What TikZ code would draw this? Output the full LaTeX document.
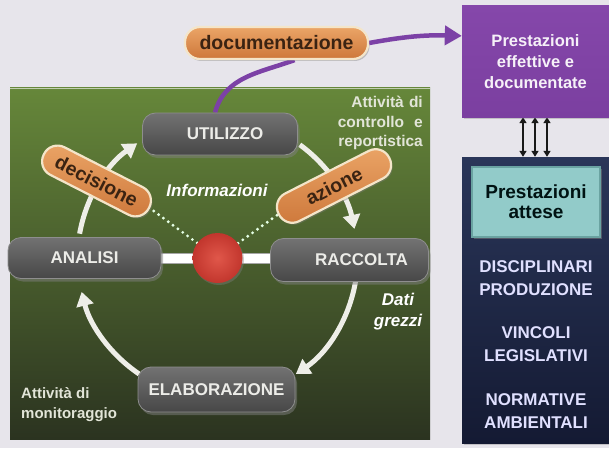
\documentclass[tikz,border=0pt]{standalone}
\usepackage{fontspec}
\setmainfont{Liberation Sans}
\usetikzlibrary{arrows.meta,shadows,calc}
\pgfdeclarelayer{bgzero}
\pgfdeclarelayer{conn}
\pgfsetlayers{bgzero,conn,main}
\definecolor{pagebg}{HTML}{E7E5EB}
\definecolor{gtop}{HTML}{66873A}
\definecolor{gmid}{HTML}{4A6629}
\definecolor{gbot}{HTML}{2B3320}
\definecolor{pilltop}{HTML}{727272}
\definecolor{pillbot}{HTML}{474747}
\definecolor{pilledge}{HTML}{8E8E8E}
\definecolor{ortop}{HTML}{EBA567}
\definecolor{orbot}{HTML}{CD773A}
\definecolor{oredge}{HTML}{F4E5C9}
\definecolor{ortext}{HTML}{3A2312}
\definecolor{purp}{HTML}{7B3FA0}
\definecolor{purptop}{HTML}{8547AA}
\definecolor{purpline}{HTML}{7C41A6}
\definecolor{navytop}{HTML}{2A3659}
\definecolor{navybot}{HTML}{141A33}
\definecolor{tealfill}{HTML}{92CBC9}
\definecolor{tealedge}{HTML}{6AA3A1}
\definecolor{dotin}{HTML}{E0574A}
\definecolor{dotout}{HTML}{C2362D}
\definecolor{lighttext}{HTML}{ECECE8}
\definecolor{labtext}{HTML}{E2E5D8}
\definecolor{cyccol}{HTML}{EEEEE8}
\begin{document}
\begin{tikzpicture}[x=1pt,y=1pt,
  proc/.style={rounded corners=13pt, minimum height=42pt, inner sep=0pt,
    top color=pilltop, bottom color=pillbot, draw=pilledge, line width=0.8pt,
    drop shadow={shadow xshift=2pt, shadow yshift=-3pt, opacity=0.5},
    text=lighttext, font=\bfseries\fontsize{17}{20}\selectfont},
  orpill/.style={rounded corners=15pt, minimum height=31pt, inner sep=0pt,
    top color=ortop, bottom color=orbot, draw=oredge, line width=2.2pt,
    text=ortext, font=\bfseries\fontsize{19.5}{22}\selectfont,
    drop shadow={shadow xshift=1.5pt, shadow yshift=-2pt, opacity=0.4}},
  lbl/.style={inner sep=0pt, text=labtext, font=\bfseries\fontsize{15.5}{19.5}\selectfont},
  ital/.style={inner sep=0pt, text=white, align=center, font=\bfseries\itshape\fontsize{17}{21}\selectfont},
  cyc/.style={draw=cyccol, line width=5pt, -{Triangle[width=17pt,length=14pt]}},
  dotline/.style={draw=white!90!green, line width=3.2pt, line cap=round, dash pattern=on 0pt off 6pt},
  pline/.style={draw=purpline, line width=4.5pt},
  dblarrow/.style={draw=black!90, line width=1.8pt, {Triangle[width=7pt,length=6pt]}-{Triangle[width=7pt,length=6pt]}},
  navytext/.style={inner sep=0pt, align=center, text=white!88!blue, font=\bfseries\fontsize{17}{23}\selectfont}
]
\useasboundingbox (0,0) rectangle (609,448);
\coordinate (ctr) at (217.5,190);
\begin{pgfonlayer}{bgzero}
  \fill[pagebg] (0,0) rectangle (609,448);
  \shade[top color=gtop, middle color=gmid, bottom color=gbot] (10,9) rectangle (430,360);
  \draw[white!60!gtop, line width=0.8pt] (10,360) -- (430,360);
  \foreach \a/\b in {170/125, 54/12, -9/-56, -124/-166}
    \draw[cyc] ($(ctr)+(\a:140)$) arc[start angle=\a, end angle=\b, radius=140];
\end{pgfonlayer}

% right column
\node[minimum width=147pt, minimum height=111pt, inner sep=0pt, top color=purptop, bottom color=purp,
  drop shadow={shadow xshift=2pt, shadow yshift=-2pt, opacity=0.35},
  align=center, text=white!93!purp, font=\bfseries\fontsize{16.5}{21}\selectfont] (pb) at (535.5,386.5)
  {Prestazioni\\effettive e\\documentate};
\node[minimum width=147pt, minimum height=286pt, inner sep=0pt, top color=navytop, bottom color=navybot,
  drop shadow={shadow xshift=2pt, shadow yshift=-2pt, opacity=0.35}] (nb) at (535.5,148) {};
\node[minimum width=128pt, minimum height=70pt, inner sep=0pt, fill=tealfill, draw=tealedge, line width=2pt,
  drop shadow={shadow xshift=2pt, shadow yshift=-2pt, opacity=0.5},
  align=center, text=black!85!teal, font=\bfseries\fontsize{19}{20}\selectfont] (pa) at (536,246)
  {Prestazioni\\attese};
\node[navytext] (t1) at (536,170) {DISCIPLINARI\\PRODUZIONE};
\node[navytext] (t2) at (536,104) {VINCOLI\\LEGISLATIVI};
\node[navytext] (t3) at (536,37) {NORMATIVE\\AMBIENTALI};

% cycle nodes
\node[proc, minimum width=155pt] (ut) at (220,314) {\hspace*{10pt}UTILIZZO};
\node[proc, minimum width=153pt, minimum height=41pt] (an) at (84.5,190) {ANALISI};
\node[proc, minimum width=158pt, minimum height=43pt] (ra) at (349.5,188) {\hspace*{24pt}RACCOLTA};
\node[proc, minimum width=157pt, minimum height=45pt] (el) at (216.5,58.5) {ELABORAZIONE};
\node[circle, minimum size=50pt, inner sep=0pt, inner color=dotin, outer color=dotout,
  drop shadow={shadow xshift=1.5pt, shadow yshift=-2pt, opacity=0.4}] (dot) at (ctr) {};

\node[orpill, minimum width=183pt, minimum height=32pt] (doc) at (276.5,405) {documentazione};
\node[orpill, minimum width=118pt, rotate=-27] (dec) at (96.5,267) {decisione};
\node[orpill, minimum width=124pt, rotate=27] (az) at (334,262) {azione};

% labels
\node[lbl, text width=85pt, align=right, anchor=east] (lab1) at (423,325) {Attività di\\controllo\hfill e\\reportistica};
\node[lbl, align=left, anchor=west, font=\bfseries\fontsize{15}{20}\selectfont] (lab2) at (21,43) {Attività di\\monitoraggio};
\node[ital] (dati) at (398,136) {Dati\\grezzi};
\node[ital] (info) at (217,258) {Informazioni};

\begin{pgfonlayer}{conn}
  \draw[double=white, double distance=9pt, line width=1pt, draw=gray!70] (an.east) -- (an.east -| ra.west);
  \draw[dotline] (dot) -- (dec.east);
  \draw[dotline] (dot) -- (az.west);
  \draw[pline] ([xshift=-5pt]ut.north) to[out=75, in=200] ([xshift=18pt]doc.south);
  \draw[pline, -{Triangle[width=19pt,length=17pt]}] (doc.east) to[bend left=6] ($(pb.north west)!0.27!(pb.south west)$);
  \foreach \dx in {-12.5,-0.5,11.5}
    \draw[dblarrow] ([xshift=\dx pt]pb.south) -- ([xshift=\dx pt]nb.north);
\end{pgfonlayer}
\end{tikzpicture}
\end{document}
